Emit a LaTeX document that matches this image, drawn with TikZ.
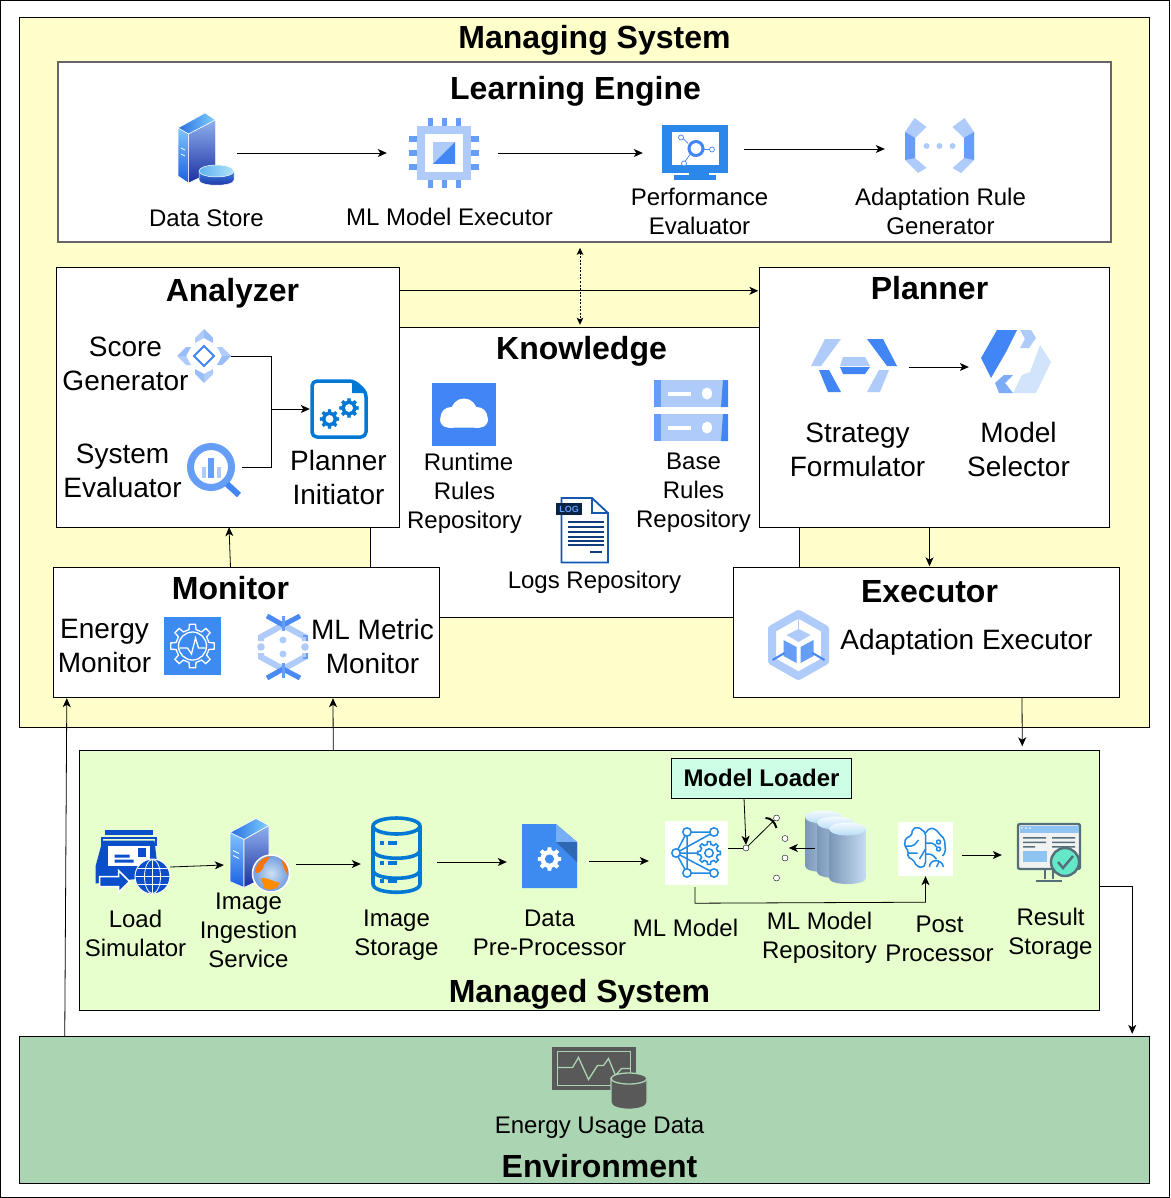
\documentclass[tikz,border=0pt]{standalone}
\usepackage{fontspec}
\setmainfont{Liberation Sans}
\usepackage{tikz}
\usetikzlibrary{arrows.meta, calc}
\definecolor{ManagingFill}{HTML}{FFFFCC}
\definecolor{ManagedFill}{HTML}{E6FFCC}
\definecolor{EnvFill}{HTML}{ABD4B3}
\definecolor{LoaderFill}{HTML}{CCFFE6}
\definecolor{GBlue}{HTML}{4285F4}
\definecolor{GMid}{HTML}{669DF6}
\definecolor{GLight}{HTML}{AECBFA}
\definecolor{GPale}{HTML}{D2E3FC}
\definecolor{AzBlue}{HTML}{0078D4}
\definecolor{SkyBlue}{HTML}{1E88E5}
\definecolor{DocBlue}{HTML}{3D8BF0}
\definecolor{NavyBlue}{HTML}{0A4FC9}
\definecolor{LogBlue}{HTML}{1558B0}
\definecolor{SlateGrey}{HTML}{546E7A}
\definecolor{EnvGrey}{HTML}{595959}
\definecolor{MintFill}{HTML}{64E8C8}
\definecolor{TowerTopL}{HTML}{2A6FE0}
\definecolor{TowerTopR}{HTML}{7FD0FF}
\definecolor{TowerFrontT}{HTML}{7FC4FF}
\definecolor{TowerFrontB}{HTML}{1A5FE0}
\definecolor{TowerSideT}{HTML}{8FB0EE}
\definecolor{TowerSideB}{HTML}{1A2FA0}
\definecolor{DiskBodyT}{HTML}{3F7FE0}
\definecolor{DiskTopL}{HTML}{60B0F0}
\definecolor{DiskTopR}{HTML}{B0E4FA}
\definecolor{GlobeIn}{HTML}{CFE0F5}
\definecolor{GlobeOut}{HTML}{6F9BDD}
\definecolor{RepoEdgeL}{HTML}{7B97B8}
\definecolor{RepoEdgeR}{HTML}{C5DCF2}
\definecolor{RepoCapT}{HTML}{F4FAFF}
\definecolor{RepoCapB}{HTML}{B8DEF6}
\tikzset{%
  sys_box/.style 2 args={%
    rectangle,%
    draw=black,%
    minimum width=#1,%
    minimum height=#2,%
    inner sep=0pt,%
  },
  box_title/.style={%
    font={\fontsize{32}{38}\selectfont\bfseries},%
    text height=24pt,%
    text depth=0pt,%
    inner sep=0pt,%
  },
  label_s/.style={%
    font={\fontsize{24}{29}\selectfont},%
    align=center,%
    inner sep=0pt,%
  },
  label_m/.style={%
    font={\fontsize{28}{34}\selectfont},%
    align=center,%
    inner sep=0pt,%
  },
  icon_box/.style 2 args={%
    rectangle,%
    minimum width=#1,%
    minimum height=#2,%
    inner sep=0pt,%
  },
  contact/.style={%
    circle,%
    draw=black,%
    fill=white,%
    inner sep=0pt,%
    minimum size=6pt,%
  },
  arrow/.style={%
    -{Stealth[length=9pt, width=8pt, inset=2.5pt]},%
    line width=0.8pt,%
  },
  plain_path/.style={%
    line width=0.8pt,%
  },
  dotted_arrow/.style={%
    {Stealth[length=7pt, width=6.5pt, inset=1.5pt]}-{Stealth[length=7pt, width=6.5pt, inset=1.5pt]},%
    line width=1pt,%
    dash pattern=on 2pt off 1.5pt,%
  },
  gear_outer/.pic={%
    \draw [pic actions] (-12:8)
      \foreach \a in {0,45,...,315} {
        -- (\a-12:8) -- (\a-8:10.5) -- (\a+8:10.5) -- (\a+12:8)
      } -- cycle;
  },
  gear_mark/.pic={%
    \draw [pic actions] (-12:8)
      \foreach \a in {0,45,...,315} {
        -- (\a-12:8) -- (\a-8:10.5) -- (\a+8:10.5) -- (\a+12:8)
      } -- cycle;
    \draw [pic actions] (0,0) circle (3.8);
  },
  data_store_icon/.pic={%
    \shade [left color=TowerTopL, right color=TowerTopR, draw=white, line width=0.5pt]
      (-27,-21) -- (0,-36) -- (10.5,-29) -- (-16.5,-15) -- cycle;
    \shade [top color=TowerFrontT, bottom color=TowerFrontB, draw=white, line width=0.5pt]
      (-27,-21) -- (-16.5,-15) -- (-16.5,34) -- (-27,27) -- cycle;
    \shade [top color=TowerSideT, bottom color=TowerSideB, draw=white, line width=0.5pt]
      (-16.5,-15) -- (10.5,-29) -- (10.5,21) -- (-16.5,34) -- cycle;
    \shade [top color=DiskBodyT, bottom color=TowerSideB, draw=white, line width=0.5pt]
      (-6,22) -- (-6,31) .. controls (-6,38) and (29,38) .. (29,31) -- (29,22) -- cycle;
    \shade [left color=DiskTopL, right color=DiskTopR, draw=white, line width=0.5pt]
      (11.5,22) ellipse [x radius=17.5, y radius=6];
    \draw [white, line width=0.7pt] (-24,-1) -- (-20,1) (-24,5) -- (-20,7);
  },
  chip_icon/.pic={%
    \fill [GLight] (-27,-27) rectangle (27,27);
    \fill [white] (-19,-19) rectangle (19,19);
    \foreach \p in {-14,0,14} {
      \fill [GMid] (\p-2.5,-35) rectangle (\p+2.5,-27);
      \fill [GMid] (\p-2.5,27) rectangle (\p+2.5,35);
      \fill [GMid] (-35,\p-3) rectangle (-27,\p+3);
      \fill [GMid] (27,\p-3) rectangle (35,\p+3);
    }
    \fill [GLight] (-11,-11) rectangle (11,11);
    \fill [GBlue] (11,-11) -- (11,11) -- (-11,11) -- cycle;
  },
  perf_icon/.pic={%
    \fill [SkyBlue!60!GBlue] (-33,-27.5) rectangle (33,20.5);
    \fill [white] (-23,-20.5) rectangle (24,12.5);
    \fill [SkyBlue!60!GBlue] (-6,20.5) rectangle (14,24);
    \fill [SkyBlue!60!GBlue] (-21,23) rectangle (21,27.5);
    \draw [GBlue, line width=3pt] (1,-4) circle (7);
    \draw [GBlue, line width=0.7pt] (-7,-9) -- (-13,-15) (8,-3) -- (15,-3) (-5,2) -- (-10,9);
    \draw [GBlue, line width=0.7pt, fill=white] (-14,-15) circle (2.5) (17,-3) circle (2.5) (-11,11) circle (2.5);
  },
  rule_gen_icon/.pic={%
    \foreach \s in {1,-1} {
      \begin{scope}[xscale=\s]
        \fill [GLight] (-25,-28) -- (-34.5,-14) -- (-34.5,14) -- (-21.5,27)
          -- (-13,22) -- (-24.5,12) -- (-24.5,-8) -- (-13,-19) -- cycle;
        \fill [GMid] (-34.5,-14) -- (-24.5,-8) -- (-24.5,12) -- (-34.5,14) -- cycle;
      \end{scope}
    }
    \fill [GLight] (-13,0) circle (3) (0,0) circle (3) (13,0) circle (3);
  },
  score_icon/.pic={%
    \foreach \r in {0,90,180,270} {
      \begin{scope}[rotate=\r]
        \fill [GLight] (13,-9) -- (18,-9) -- (27,0) -- (18,0) -- cycle;
        \fill [GLight!70!GMid] (13,9) -- (18,9) -- (27,0) -- (18,0) -- cycle;
      \end{scope}
    }
    \draw [GBlue, line width=2pt, fill=white] (-10,0) -- (0,-10) -- (10,0) -- (0,10) -- cycle;
  },
  lens_icon/.pic={%
    \draw [GMid, line width=7pt, fill=white] (-3,-2) circle (20.5);
    \fill [GLight] (-12,-2) rectangle (-8,9);
    \fill [GMid] (-6,-11) rectangle (0,9);
    \fill [GLight] (3,-2) rectangle (7,9);
    \draw [GBlue, line width=6pt] (13,15) -- (25,26);
  },
  initiator_icon/.pic={%
    \draw [AzBlue, line width=3.5pt, line join=round, rounded corners=5pt, fill=white]
      (-27,-28) -- (15,-28) -- (27,-17) -- (27,28) -- (-27,28) -- cycle;
    \fill [AzBlue] (13,-29.5) -- (28.5,-16) -- (13,-16) -- cycle;
    \pic [draw=AzBlue, fill=AzBlue, line width=0.5pt, scale=0.9] at (10,-1) {gear_outer};
    \pic [draw=AzBlue, fill=AzBlue, line width=0.5pt, scale=0.9] at (-9.5,10) {gear_outer};
    \fill [white] (10,-1) circle (4) (-9.5,10) circle (4);
  },
  cloud_icon/.pic={%
    \fill [GBlue] (-32,-31.5) rectangle (32,31.5);
    \fill [white, rounded corners=8pt] (-24,-2) rectangle (24,13);
    \fill [white] (0,-3) circle (13) (-13,3) circle (10.5) (13,3) circle (10.5);
  },
  base_icon/.pic={%
    \foreach \y in {-30.5,3.5} {
      \fill [GLight] (-37,\y) rectangle (37,\y+27);
      \fill [GMid] (-37,\y) rectangle (-30,\y+27);
      \fill [GBlue] (30,\y+27) -- (37,\y+27) -- (37,\y) -- (32,\y) -- cycle;
      \fill [white] (-23,\y+12) rectangle (0,\y+16);
      \fill [white] (16,\y+13.5) ellipse [x radius=5, y radius=6];
    }
  },
  log_icon/.pic={%
    \draw [LogBlue, line width=1.8pt, fill=white]
      (-21.5,-32) -- (9,-32) -- (25,-17) -- (25,32.5) -- (-21.5,32.5) -- cycle;
    \draw [LogBlue, line width=1.8pt] (9,-32) -- (9,-17) -- (25,-17);
    \foreach \y in {-8,-3,2,7,11,15} {
      \fill [LogBlue!70!black] (-15.5,\y-1.3) rectangle (20.5,\y+1.3);
    }
    \fill [LogBlue!70!black] (7,21) rectangle (19,23);
    \node [rectangle, fill=LogBlue!40!black, text=GMid, inner sep=0pt,
      minimum width=26pt, minimum height=11.5pt,
      font={\fontsize{9}{9}\selectfont\bfseries}] (LogTag) at (-14,-21) {LOG};
  },
  strategy_icon/.pic={%
    \fill [GLight] (-29,-27) -- (-13,-27) -- (-33,0) -- (-43,0) -- cycle;
    \fill [GBlue] (-35,4) -- (-25,4) -- (-13,26) -- (-26,26) -- cycle;
    \fill [GBlue] (13,-27) -- (29,-27) -- (43,0) -- (33,0) -- cycle;
    \fill [GLight] (25,4) -- (35,4) -- (26,26) -- (13,26) -- cycle;
    \fill [GLight] (-14,0) -- (-11,-9) -- (11,-9) -- (16,0) -- cycle;
    \fill [GBlue] (-14,1) -- (16,1) -- (11,8) -- (-11,8) -- cycle;
  },
  selector_icon/.pic={%
    \fill [GBlue] (-19,-32) -- (1,-32) -- (-10,-10) -- (-25,16) -- (-35,-4) -- cycle;
    \fill [GLight] (4,-32) -- (15,-32) -- (20,-24) -- (13,-14) -- (4,-14) -- (9,-23) -- cycle;
    \fill [GPale] (24,-17) -- (35,0) -- (20,31) -- (-3,31) -- (6,13) -- (14,10) -- cycle;
    \fill [GMid!70!GLight] (-12,13) -- (-3,13) -- (-11,21) -- (-3,31) -- (-17,31) -- (-21,21) -- cycle;
  },
  energy_icon/.pic={%
    \fill [DocBlue] (-28.5,-29) rectangle (28.5,29);
    \pic [draw=white, line width=1.3pt, scale=2.1] at (0,0) {gear_outer};
    \draw [white, line width=1.3pt] (0,0) circle (14);
    \draw [white, line width=1.3pt] (-13,2) -- (-5,2) -- (-1,8) -- (3,-8) -- (6,2) -- (13,2);
  },
  metric_icon/.pic={%
    \draw [GLight, line width=6pt] (0,-22) -- (-22,-10) -- (-22,-6) (0,22) -- (-22,10) -- (-22,6);
    \draw [GLight, line width=6pt] (0,-22) -- (22,-10) -- (22,-6) (0,22) -- (22,10) -- (22,6);
    \draw [GMid, line width=2pt] (20,-11) -- (24,-11) -- (24,-6) (20,11) -- (24,11) -- (24,6);
    \draw [GBlue!80!GMid, line width=5pt] (-16,-31) -- (0,-22) -- (17,-31) (-16,31) -- (0,22) -- (17,31);
    \draw [GMid, line width=3pt] (0,-31) -- (0,-16) (0,31) -- (0,16);
    \fill [GLight] (0,-7) circle (3.5) (0,7) circle (3.5) (-22,0) circle (3.8) (22,0) circle (3.8);
  },
  executor_icon/.pic={%
    \draw [GLight, line width=8pt, fill=white, line join=round]
      (0,-31) -- (26.5,-16) -- (26.5,16) -- (0,31) -- (-26.5,16) -- (-26.5,-16) -- cycle;
    \draw [GLight, line width=1.5pt] (0,-32) -- (0,-14);
    \fill [GLight] (0,-16) -- (12,-10) -- (0,-3) -- (-12,-10) -- cycle;
    \fill [GMid] (-15,-5) -- (-2,2) -- (-2,18) -- (-15,11) -- cycle;
    \fill [GMid] (15,-5) -- (2,2) -- (2,18) -- (15,11) -- cycle;
    \draw [GBlue, line width=2pt] (-26,15) -- (-14,8) (26,15) -- (14,8);
  },
  load_icon/.pic={%
    \fill [NavyBlue] (-28,-31.5) rectangle (20,-26.5);
    \draw [NavyBlue, line width=2pt] (-31,-16) -- (-31,-24) -- (23,-24) -- (23,-16);
    \fill [NavyBlue] (-30,-21) -- (22,-21) -- (26,15) -- (-37,22) -- (-37,5) -- cycle;
    \fill [white] (-25,-16) rectangle (17,4);
    \fill [NavyBlue] (5,-14) rectangle (13,-5);
    \fill [NavyBlue] (-18,-7) rectangle (-3,-4) (-18,-2) rectangle (1,1);
    \draw [white, line width=1.5pt, fill=NavyBlue] (-33,15) -- (-14,15) -- (-14,9) -- (-3,20)
      -- (-14,31) -- (-14,25) -- (-33,25) -- cycle;
    \draw [white, line width=1pt, fill=NavyBlue] (20,15) circle (17.5);
    \draw [white, line width=0.8pt] (20,15) ellipse [x radius=8, y radius=17]
      (3,15) -- (37,15) (20,-2) -- (20,32) (5,7) -- (35,7) (5,23) -- (35,23);
  },
  ingest_icon/.pic={%
    \shade [left color=TowerTopL, right color=TowerTopR, draw=white, line width=0.6pt]
      (-30,-23) -- (-4,-37) -- (9,-30) -- (-16,-16) -- cycle;
    \shade [top color=TowerFrontT, bottom color=TowerFrontB, draw=white, line width=0.6pt]
      (-30,-23) -- (-16,-16) -- (-16,32) -- (-30,26) -- cycle;
    \shade [top color=TowerSideT, bottom color=TowerSideB, draw=white, line width=0.6pt]
      (-16,-16) -- (9,-30) -- (9,20) -- (-16,32) -- cycle;
    \draw [white, line width=0.7pt] (-27,-5) -- (-21,-2) (-27,0) -- (-21,3);
    \shade [inner color=GlobeIn, outer color=GlobeOut, draw=white, line width=1.5pt] (11,18) circle (18.5);
    \fill [orange!90!red] (-5,16) .. controls (-3,6) and (4,1) .. (10,1) .. controls (8,6) and (3,8) .. (3,13)
      .. controls (0,17) and (-3,19) .. (-5,16);
    \fill [orange!90!yellow] (1,23) .. controls (8,21) and (16,28) .. (20,27) .. controls (19,33) and (10,37) .. (4,32) -- cycle;
    \fill [orange!90!red] (21,4) .. controls (25,6) and (29,12) .. (28,20) .. controls (25,16) and (23,10) .. (21,4);
  },
  storage_icon/.pic={%
    \begin{scope}[AzBlue, line width=3.6pt]
      \draw (-23.5,-29) -- (-23.5,29) .. controls (-23.5,40) and (23.5,40) .. (23.5,29) -- (23.5,-29);
      \draw (0,-29) ellipse [x radius=23.5, y radius=8];
      \draw (-23.5,-5) .. controls (-23.5,6) and (23.5,6) .. (23.5,-5);
      \draw (-23.5,15) .. controls (-23.5,26) and (23.5,26) .. (23.5,15);
    \end{scope}
    \foreach \y in {-12,8,26} {
      \fill [AzBlue] (-17,\y-1.7) rectangle (-13,\y+1.7);
      \fill [AzBlue] (-9,\y-1.7) rectangle (0,\y+1.7);
    }
  },
  data_doc_icon/.pic={%
    \fill [DocBlue] (-27.5,-32) -- (6.5,-32) -- (27.5,-14) -- (27.5,32) -- (-27.5,32) -- cycle;
    \fill [DocBlue!70!white] (6.5,-32) -- (27.5,-14) -- (6.5,-14) -- cycle;
    \fill [DocBlue!75!black] (6.5,-14) -- (27.5,-14) -- (27.5,6) -- cycle;
    \pic [draw=white, fill=white, line width=0.5pt, scale=1.1] at (0,3) {gear_outer};
    \fill [DocBlue] (0,3) circle (4.6);
  },
  network_icon/.pic={%
    \draw [SkyBlue, line width=1.5pt]
      (-9.5,-21) -- (17.5,-21) (-9.5,-21) -- (-20.5,0) (-20.5,0) -- (-9.5,20)
      (-9.5,20) -- (17.5,20) (-9.5,-21) -- (-9.5,20) (-20.5,0) -- (17.5,-21)
      (-20.5,0) -- (17.5,20) (-20.5,0) -- (2,0);
    \foreach \p in {(-9.5,-21),(17.5,-21),(-20.5,0),(-9.5,20),(17.5,20)} {
      \draw [SkyBlue, line width=1.5pt, fill=white] \p circle (4.2);
    }
    \fill [white] (12.5,0) circle (10);
    \pic [draw=SkyBlue, line width=1.5pt, scale=1.1] at (12.5,0) {gear_mark};
  },
  repo_icon/.pic={%
    \foreach \x/\y in {-31/-37, -19/-31, -7/-25} {
      \shade [left color=RepoEdgeL, right color=RepoEdgeR]
        (\x,\y+6) -- (\x,\y+55) .. controls (\x,\y+63) and (\x+37,\y+63) .. (\x+37,\y+55)
        -- (\x+37,\y+6) -- cycle;
      \shade [top color=RepoCapT, bottom color=RepoCapB]
        (\x+18.5,\y+6) ellipse [x radius=18.5, y radius=6.5];
    }
  },
  brain_icon/.pic={%
    \begin{scope}[SkyBlue, line width=1.5pt, line join=round, rounded corners=2pt]
      \draw (-3,-19) -- (-8,-22) -- (-13,-20) -- (-14,-13) -- (-20,-11) -- (-21,-3) -- (-17,2)
        -- (-18,8) -- (-12,11) -- (-9,17) -- (-3,19) -- (0,15) -- (0,-16) -- cycle;
      \draw (0,-16) -- (4,-21) -- (10,-20) -- (14,-15) -- (19,-10) -- (20,3) -- (17,7);
      \draw (-21,-3) -- (-12,-3) -- (-7,-9);
      \draw (-17,4) -- (-8,4) (0,0) -- (-6,10);
      \draw (0,-6) -- (8,-6) -- (11,-2) (0,5) -- (6,5) -- (11,10);
      \draw [fill=white] (13,-7) circle (2) (13,0) circle (2);
      \draw (4,18) .. controls (4,10) and (16,9) .. (18,18);
      \draw (11,18) -- (14,12);
    \end{scope}
  },
  result_icon/.pic={%
    \draw [SlateGrey, line width=2.4pt, fill=gray!10, rounded corners=2pt] (-31,-30) rectangle (31,15);
    \fill [SkyBlue!50!white] (-29.5,-28) rectangle (29.5,-21);
    \fill [white] (-27,-26) circle (0.8) (-23,-26) circle (0.8) (-19,-26) circle (0.8);
    \fill [SlateGrey] (-26,-17) rectangle (-3,-15.5) (3,-17) rectangle (26,-15.5)
      (-26,-12.5) rectangle (-3,-11) (3,-12.5) rectangle (26,-11)
      (-26,-8) rectangle (-14,-6.5) (3,-8) rectangle (26,-6.5);
    \fill [SkyBlue!50!white] (-26,-3) rectangle (-2,8);
    \draw [SlateGrey, line width=2.4pt] (-4,15) -- (-4,25) (4,15) -- (4,25) (-13,27) -- (13,27);
    \draw [SlateGrey, line width=2.4pt, fill=MintFill] (16,8) circle (14);
    \draw [SlateGrey, line width=2.4pt] (9,8) -- (14,14) -- (24,2);
  },
  usage_icon/.pic={%
    \fill [EnvGrey] (-47.5,-31.5) rectangle (36.5,11);
    \draw [EnvFill, line width=1.3pt] (-42,-27) rectangle (31,7);
    \draw [EnvFill, line width=1.3pt] (-42,-11) -- (-27,-11) -- (-21,-21) -- (-11,1) -- (-2,-13) -- (4,-13)
      -- (9,-20) -- (16,-3) -- (22,-10) -- (31,-10);
    \draw [EnvFill, line width=1.3pt, fill=EnvGrey] (11.5,0) -- (11.5,24) .. controls (11.5,33) and (47.5,33) .. (47.5,24) -- (47.5,0) -- cycle;
    \draw [EnvFill, line width=1.3pt, fill=EnvGrey] (29.5,0) ellipse [x radius=18, y radius=5.5];
  },
}
\begin{document}
\begin{tikzpicture}[x=1pt, y=-1pt]

    \useasboundingbox (0,0) rectangle (1170,1198);
    \node [sys_box={1169pt}{1197pt}, fill=white] (Frame) at (585,599) {};

    \node [sys_box={1130.5pt}{710pt}, fill=ManagingFill] (Managing) at (584.25,372) {};
    \node [box_title] (ManagingTitle) at (594.5,37) {Managing System};

    \node [sys_box={1053pt}{180pt}, fill=white, draw=black!60, line width=1.6pt] (Learning) at (584.5,152) {};
    \node [box_title] (LearningTitle) at (575.5,88) {Learning Engine};

    \node [sys_box={429pt}{290pt}, fill=white] (Knowledge) at (584.5,472) {};
    \node [box_title] (KnowledgeTitle) at (581.5,347) {Knowledge};
    \node [sys_box={343pt}{260pt}, fill=white] (Analyzer) at (227.5,397) {};
    \node [box_title] (AnalyzerTitle) at (232.5,289) {Analyzer};
    \node [sys_box={349.5pt}{260pt}, fill=white] (Planner) at (934.25,397) {};
    \node [box_title] (PlannerTitle) at (929.5,287) {Planner};
    \node [sys_box={386pt}{129.5pt}, fill=white] (Monitor) at (246,632.25) {};
    \node [box_title] (MonitorTitle) at (230.5,587) {Monitor};
    \node [sys_box={386pt}{129.5pt}, fill=white] (Executor) at (926,632.25) {};
    \node [box_title] (ExecutorTitle) at (929.5,590) {Executor};

    \node [sys_box={1019.5pt}{259.5pt}, fill=ManagedFill] (Managed) at (589.25,880.25) {};
    \node [box_title] (ManagedTitle) at (579.5,990) {Managed System};
    \node [sys_box={180pt}{40pt}, fill=LoaderFill] (Loader) at (761,778) {};
    \node [font={\fontsize{24}{29}\selectfont\bfseries}, inner sep=0pt] (LoaderTitle) at (761.5,778) {Model Loader};

    \node [sys_box={1130.5pt}{147pt}, fill=EnvFill] (Environment) at (584.25,1109.5) {};
    \node [box_title] (EnvironmentTitle) at (599.5,1165) {Environment};

    \node [icon_box={58pt}{72pt}] (DataStore) at (205,149) {};
    \pic at (DataStore) {data_store_icon};
    \node [icon_box={70pt}{70pt}] (MLExec) at (444,153) {};
    \pic at (MLExec) {chip_icon};
    \node [icon_box={66pt}{55pt}] (PerfEval) at (695,152.5) {};
    \pic at (PerfEval) {perf_icon};
    \node [icon_box={69pt}{56pt}] (RuleGen) at (939.5,146) {};
    \pic at (RuleGen) {rule_gen_icon};
    \node [label_s] (DataStoreText) at (206.5,218) {Data Store};
    \node [label_s] (MLExecText) at (449.5,217) {ML Model Executor};
    \node [label_s] (PerfEvalText) at (699.5,211) {Performance\\Evaluator};
    \node [label_s] (RuleGenText) at (940.5,211) {Adaptation Rule\\Generator};

    \node [icon_box={54pt}{55pt}] (ScoreGen) at (204,356) {};
    \pic at (ScoreGen) {score_icon};
    \node [icon_box={54pt}{54pt}] (SystemEval) at (214,469) {};
    \pic at (SystemEval) {lens_icon};
    \node [icon_box={58pt}{60pt}] (Initiator) at (339,409) {};
    \pic at (Initiator) {initiator_icon};
    \node [label_m] (ScoreGenText) at (125.5,364) {Score\\Generator};
    \node [label_m] (SystemEvalText) at (122.5,471) {System\\Evaluator};
    \node [label_m] (InitiatorText) at (338.5,477) {Planner\\Initiator};

    \node [icon_box={64pt}{63pt}] (RuntimeRepo) at (464,414.5) {};
    \pic at (RuntimeRepo) {cloud_icon};
    \node [icon_box={74pt}{61pt}] (BaseRepo) at (691,410.5) {};
    \pic at (BaseRepo) {base_icon};
    \node [icon_box={53pt}{66pt}] (LogsRepo) at (583,530) {};
    \pic at (LogsRepo) {log_icon};
    \node [label_s] (RuntimeRepoText) at (464.5,493) {\hspace*{8pt}Runtime\\Rules\\Repository};
    \node [label_s] (BaseRepoText) at (693.5,493) {Base\\Rules\\Repository};
    \node [label_s] (LogsRepoText) at (594.5,582) {Logs Repository};

    \node [icon_box={86pt}{53pt}] (Strategy) at (854,366) {};
    \pic at (Strategy) {strategy_icon};
    \node [icon_box={70pt}{64pt}] (Selector) at (1016,362) {};
    \pic at (Selector) {selector_icon};
    \node [label_m] (StrategyText) at (857.5,450) {Strategy\\Formulator};
    \node [label_m] (SelectorText) at (1018.5,449) {Model\\Selector};

    \node [icon_box={57pt}{58pt}] (EnergyMon) at (192.5,646) {};
    \pic at (EnergyMon) {energy_icon};
    \node [icon_box={50pt}{66pt}] (MetricMon) at (283,647) {};
    \pic at (MetricMon) {metric_icon};
    \node [label_m] (EnergyMonText) at (104.5,646) {Energy\\Monitor};
    \node [label_m] (MetricMonText) at (372.5,646) {ML Metric\\Monitor};

    \node [icon_box={61pt}{70pt}] (AdaptExec) at (798.5,645) {};
    \pic at (AdaptExec) {executor_icon};
    \node [label_m] (AdaptExecText) at (966.5,642) {Adaptation Executor};

    \node [icon_box={75pt}{63pt}] (LoadSim) at (132.5,861.5) {};
    \pic at (LoadSim) {load_icon};
    \node [icon_box={60pt}{75pt}] (Ingestion) at (260,855.5) {};
    \pic at (Ingestion) {ingest_icon};
    \node [icon_box={51pt}{78pt}] (ImageStore) at (396.5,855) {};
    \pic at (ImageStore) {storage_icon};
    \node [icon_box={55pt}{64pt}] (PreProc) at (549.5,856) {};
    \pic at (PreProc) {data_doc_icon};
    \node [icon_box={63pt}{64pt}, fill=white] (MLModel) at (696.5,853) {};
    \pic at (MLModel) {network_icon};
    \node [icon_box={62pt}{74pt}] (ModelRepo) at (836,848) {};
    \pic at (ModelRepo) {repo_icon};
    \node [icon_box={55pt}{54pt}, fill=white] (PostProc) at (925.5,849) {};
    \pic at (PostProc) {brain_icon};
    \node [icon_box={64pt}{62pt}] (ResultStore) at (1049,854) {};
    \pic at (ResultStore) {result_icon};

    \node [label_s] (LoadSimText) at (135.5,933) {Load\\Simulator};
    \node [label_s] (IngestionText) at (248.5,930) {Image\\Ingestion\\Service};
    \node [label_s] (ImageStoreText) at (396.5,935) {Image\\Storage};
    \node [label_s] (PreProcText) at (549.5,933) {Data\\Pre-Processor};
    \node [label_s] (MLModelText) at (685.5,928) {ML Model};
    \node [label_s] (ModelRepoText) at (819.5,938) {ML Model\\Repository};
    \node [label_s] (PostProcText) at (939.5,939) {Post\\Processor};
    \node [label_s] (ResultStoreText) at (1050.5,934) {Result\\Storage};

    \node [contact] (SwitchPivot) at (746,848) {};
    \node [contact] (Contact1) at (776.5,818) {};
    \node [contact] (Contact2) at (785,838.5) {};
    \node [contact] (Contact3) at (785,858) {};
    \node [contact] (Contact4) at (776.5,878) {};

    \node [icon_box={95pt}{63pt}] (EnergyUsage) at (599.5,1078.5) {};
    \pic at (EnergyUsage) {usage_icon};
    \node [label_s] (EnergyUsageText) at (599.5,1128) {Energy Usage Data};

    \draw [arrow]
      ($(DataStore.east)+(3,4)$)
      --
      ($(MLExec.west)+(-22,0)$);
    \draw [arrow]
      ($(MLExec.east)+(19,0)$)
      --
      ($(PerfEval.west)+(-19,0.5)$);
    \draw [arrow]
      ($(PerfEval.east)+(16,-3.5)$)
      --
      ($(RuleGen.west)+(-20,3)$);
    \draw [dotted_arrow]
      ($(Learning.south -| KnowledgeTitle)+(-1.5,5)$)
      --
      ($(Knowledge.north -| KnowledgeTitle)+(-1.5,-2)$);
    \draw [arrow]
      ($(Analyzer.north east)+(0,24)$)
      --
      ($(Planner.north west)+(-1,24)$);
    \coordinate (ScoreJoin) at ($(Initiator.west)+(-38,0)$);
    \draw [plain_path]
      (ScoreGen.east) -| (ScoreJoin);
    \draw [plain_path]
      ($(SystemEval.east)+(1,-2)$) -| (ScoreJoin);
    \draw [arrow]
      (ScoreJoin)
      --
      (Initiator.west);
    \draw [arrow]
      ($(Strategy.east)+(12,1)$)
      --
      ($(Selector.west)+(-12,5)$);
    \draw [arrow]
      (MonitorTitle |- Monitor.north)
      --
      ($(Analyzer.south)+(1.5,0)$);
    \draw [arrow]
      (ExecutorTitle |- Planner.south)
      --
      ($(Executor.north -| ExecutorTitle)+(0,-1)$);
    \draw [arrow]
      ($(Executor.south)+(96,0)$)
      --
      ($(Managed.north)+(433,-4)$);
    \draw [arrow]
      ($(Managed.north)+(-256,0)$)
      --
      ($(Monitor.south)+(87,1)$);
    \draw [arrow]
      ($(Environment.north)+(-519.5,0)$)
      --
      ($(Monitor.south west)+(14,1)$);
    \coordinate (ManagedExit) at ($(Managed.east)+(33,6.5)$);
    \coordinate (EnvEntry) at ($(Environment.north)+(0,-2)$);
    \draw [arrow]
      ($(Managed.east)+(0,6.5)$)
      --
      (ManagedExit)
      --
      (ManagedExit |- EnvEntry);

    \draw [arrow]
      ($(LoadSim.east)+(0,5.5)$)
      --
      ($(Ingestion.west)+(-6,9.5)$);
    \draw [arrow]
      ($(Ingestion.east)+(6,8.5)$)
      --
      ($(ImageStore.west)+(-10,9)$);
    \draw [arrow]
      ($(ImageStore.east)+(15,7)$)
      --
      ($(PreProc.west)+(-15,6)$);
    \draw [arrow]
      ($(PreProc.east)+(12,5)$)
      --
      ($(MLModel.west)+(-16,8)$);
    \draw [plain_path]
      ($(MLModel.east)+(0,-5)$)
      --
      (SwitchPivot.west);
    \draw [plain_path]
      (SwitchPivot)
      --
      (Contact1);
    \draw [plain_path, line width=2pt]
      ($(Contact1)+(-11,0)$) .. controls ($(Contact1)+(-5,0)$) and ($(Contact1)+(-2,4)$) .. ($(Contact1)+(0,10)$);
    \draw [arrow]
      ($(Loader.south)+(-17,0)$)
      --
      (SwitchPivot.north);
    \draw [arrow]
      ($(ModelRepo.west)+(10,0)$)
      --
      ($(ModelRepo.west)+(-16,0)$);
    \draw [arrow]
      ($(MLModel.south)+(-1.5,2)$)
      --
      ($(MLModel.south)+(-1.5,18)$)
      --
      ($(PostProc.south)+(0,26)$)
      --
      (PostProc.south);
    \draw [arrow]
      ($(PostProc.east)+(9,6)$)
      --
      ($(ResultStore.west)+(-15,1)$);
  \end{tikzpicture}
\end{document}
